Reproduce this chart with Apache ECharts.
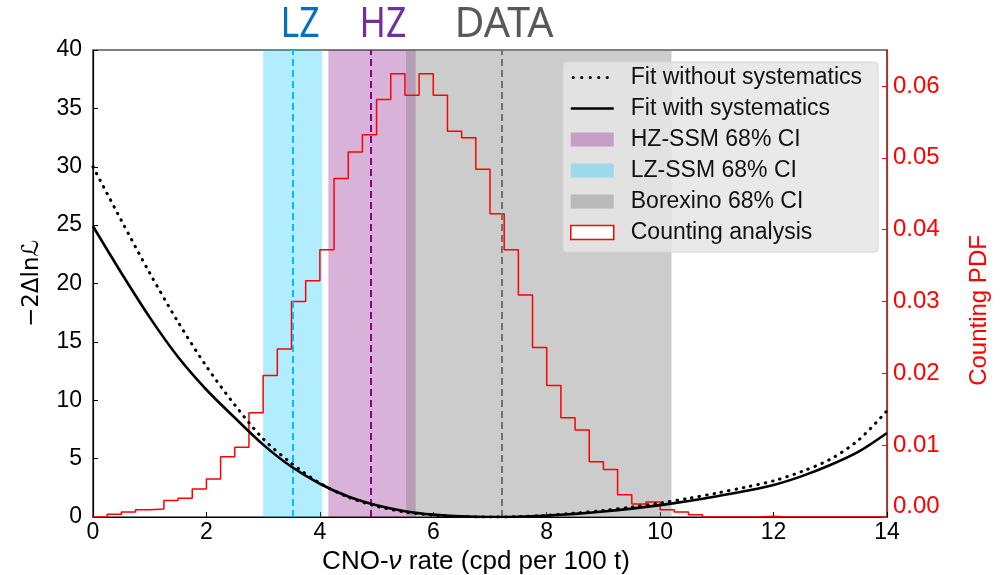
<!DOCTYPE html>
<html><head><meta charset="utf-8">
<script src="https://cdn.jsdelivr.net/npm/echarts@6/dist/echarts.min.js"></script>
<style>html,body{margin:0;padding:0;background:#fff}#c{width:1005px;height:575px}</style>
</head><body><div id="c"></div>
<script>
// ---- data ----
const fitX = [0,0.5,1,1.5,2,2.5,3,3.5,4,4.5,5,5.5,6,6.5,7,7.5,8,8.5,9,9.5,10,10.5,11,11.5,12,12.5,13,13.5,14];
const fitWithSyst = [24.9,20.9,17.1,13.7,10.9,8.5,6.2,4.3,2.85,1.75,1.0,0.5,0.2,0.05,0.0,0.02,0.12,0.27,0.47,0.72,1.02,1.37,1.77,2.22,2.74,3.5,4.45,5.6,7.2];
const fitWithoutSyst = [30.0,25.4,20.9,16.7,12.9,9.6,6.7,4.6,2.9,1.7,0.92,0.43,0.15,0.03,0.0,0.03,0.15,0.33,0.56,0.85,1.2,1.6,2.05,2.55,3.1,3.9,4.95,6.6,9.1];
const histBinStart = 0;
const histBinWidth = 0.25;
const histPdf = [0,0.0004,0.0007,0.0010,0.0011,0.0023,0.0026,0.0039,0.0053,0.0084,0.0097,0.0145,0.0197,0.0234,0.0300,0.0329,
  0.0372,0.0471,0.0508,0.0532,0.0581,0.0617,0.0587,0.0617,0.0587,0.0537,0.0528,0.0484,0.0422,0.0372,0.0309,0.0236,
  0.0183,0.0138,0.0121,0.0077,0.0066,0.0031,0.0018,0.0021,0.0010,0.0007,0.0003,0,0,0,0,0.0001,0,0,0,0,0,0,0,0];
const lzBand = [3.0, 4.04];
const hzBand = [4.15, 5.69];
const borexinoBand = [5.52, 10.2];
const lzCentral = 3.52;
const hzCentral = 4.9;
const dataBest = 7.21;
const seriesNames = ['Fit without systematics','Fit with systematics','HZ-SSM 68% CI','LZ-SSM 68% CI','Borexino 68% CI','Counting analysis'];
const topLabels = ['LZ','HZ','DATA'];

// ---- build ----
const FONT = '"Liberation Sans", Arial, sans-serif';
const hzColor = 'rgba(128,0,128,0.30)';
const lzColor = 'rgba(0,191,255,0.30)';
const bxColor = 'rgba(128,128,128,0.40)';

// legend icons (bounding box spans the whole 43x14 icon box)
const solidIcon = 'path://M0,0L0,0M43,14L43,14M0,5.8L43,5.8L43,8.2L0,8.2Z';
const dottedIcon = 'path://M0,0L0,0M43,14L43,14' +
  [2.5, 11, 19.5, 28, 36.5].map(c => `M${c - 1.6},7A1.6,1.6,0,1,0,${c + 1.6},7A1.6,1.6,0,1,0,${c - 1.6},7Z`).join('');

const pair = (xs, ys) => xs.map((x, i) => [x, ys[i]]);
const histData = histPdf.map((v, i) => [histBinStart + i * histBinWidth, v]);
histData.push([histBinStart + histPdf.length * histBinWidth, histPdf[histPdf.length - 1]]);

const band = (name, range, color) => ({
  name, type: 'line', data: [], yAxisIndex: 0, color, silent: true, z: 1,
  markArea: { silent: true, itemStyle: { color }, data: [[{ xAxis: range[0] }, { xAxis: range[1] }]] }
});
const vline = (x, color) => ({
  type: 'line', data: [], silent: true, z: 2,
  markLine: { silent: true, symbol: 'none', label: { show: false },
    lineStyle: { color, width: 2, type: [7, 4] }, data: [{ xAxis: x }] }
});

const chart = echarts.init(document.getElementById('c'), null, { renderer: 'canvas' });
chart.setOption({
  animation: false,
  backgroundColor: '#fff',
  textStyle: { fontFamily: FONT },
  grid: { left: 93, top: 50, width: 794, height: 467, show: true, borderColor: '#000', borderWidth: 1.2,
          backgroundColor: 'transparent', containLabel: false, outerBoundsMode: 'none' },
  legend: {
    orient: 'vertical', left: 563, top: 62,
    padding: [4, 16, 8, 7], itemGap: 8, itemWidth: 43, itemHeight: 14,
    backgroundColor: 'rgba(229,229,229,0.85)', borderColor: '#d6d6d6', borderWidth: 1, borderRadius: 4,
    textStyle: { fontSize: 23, color: '#111', fontFamily: FONT, padding: [0, 0, 0, 12], lineHeight: 23 },
    selectedMode: false,
    data: [
      { name: seriesNames[0], icon: dottedIcon, itemStyle: { color: '#000', borderWidth: 0 } },
      { name: seriesNames[1], icon: solidIcon, itemStyle: { color: '#000', borderWidth: 0 } },
      { name: seriesNames[2], icon: 'rect', itemStyle: { color: hzColor } },
      { name: seriesNames[3], icon: 'rect', itemStyle: { color: lzColor } },
      { name: seriesNames[4], icon: 'rect', itemStyle: { color: bxColor } },
      { name: seriesNames[5], icon: 'rect', itemStyle: { color: '#fff', borderColor: '#ff0000', borderWidth: 1.5 } }
    ]
  },
  xAxis: {
    type: 'value', min: 0, max: 14, interval: 2,
    name: 'CNO-{i|ν} rate (cpd per 100 t)', nameLocation: 'middle', nameGap: 27,
    nameTextStyle: { fontSize: 26, color: '#000', fontFamily: FONT, padding: [0, 28, 0, 0],
      rich: { i: { fontStyle: 'italic', fontSize: 26, fontFamily: FONT, color: '#000' } } },
    axisLine: { show: true, lineStyle: { color: '#000', width: 1.2 } },
    axisTick: { show: true, inside: true, length: 5, lineStyle: { color: '#000' } },
    axisLabel: { fontSize: 23, color: '#000', margin: 4, fontFamily: FONT },
    splitLine: { show: false }
  },
  yAxis: [
    { type: 'value', min: 0, max: 40, interval: 5, position: 'left',
      name: '−2Δln\u2112', nameLocation: 'middle', nameRotate: 90, nameGap: 49,
      nameTextStyle: { fontSize: 23, color: '#000', fontFamily: '"DejaVu Sans", ' + FONT },
      axisLine: { show: true, lineStyle: { color: '#000', width: 1.2 } },
      axisTick: { show: true, inside: true, length: 5, lineStyle: { color: '#000' } },
      axisLabel: { fontSize: 23, color: '#000', margin: 11, fontFamily: FONT },
      splitLine: { show: false } },
    { type: 'value', min: 0, max: 0.065, interval: 0.01, position: 'right',
      name: 'Counting PDF', nameLocation: 'middle', nameRotate: 90, nameGap: 80,
      nameTextStyle: { fontSize: 24, color: '#ff0000', fontFamily: FONT, padding: [0, 54, 0, 0] },
      axisLine: { show: true, lineStyle: { color: '#cc2222', width: 1.2 } },
      axisTick: { show: true, inside: true, length: 5, lineStyle: { color: '#ff0000' } },
      axisLabel: { fontSize: 24, color: '#ff0000', margin: 6, fontFamily: FONT, showMaxLabel: false,
        formatter: v => v === 0 ? '{z|' + v.toFixed(2) + '}' : v.toFixed(2),
        rich: { z: { fontSize: 24, color: '#ff0000', fontFamily: FONT, padding: [0, 0, 22, 0] } } },
      splitLine: { show: false } }
  ],
  graphic: [
    { type: 'text', x: 300, y: 25, scaleX: 0.85, z: 10, style: { text: topLabels[0], fontSize: 42, fontFamily: '"Noto Sans", sans-serif', fill: '#0070C0', align: 'center', verticalAlign: 'middle' } },
    { type: 'text', x: 383, y: 25, scaleX: 0.85, z: 10, style: { text: topLabels[1], fontSize: 42, fontFamily: '"Noto Sans", sans-serif', fill: '#7030A0', align: 'center', verticalAlign: 'middle' } },
    { type: 'text', x: 504, y: 25, scaleX: 0.98, z: 10, style: { text: topLabels[2], fontSize: 42, fontFamily: '"Noto Sans", sans-serif', fill: '#595959', align: 'center', verticalAlign: 'middle' } }
  ],
  series: [
    band(seriesNames[2], hzBand, hzColor),
    band(seriesNames[3], lzBand, lzColor),
    band(seriesNames[4], borexinoBand, bxColor),
    vline(lzCentral, '#00bfff'),
    vline(hzCentral, '#8b008b'),
    vline(dataBest, '#707070'),
    { name: seriesNames[5], type: 'line', yAxisIndex: 1, data: histData, step: 'end', symbol: 'none',
      color: '#ff0000', lineStyle: { color: '#ff0000', width: 1.5 }, z: 3 },
    { name: seriesNames[0], type: 'line', yAxisIndex: 0, data: pair(fitX, fitWithoutSyst), smooth: 0.3,
      symbol: 'none', color: '#000', lineStyle: { color: '#000', width: 3, type: [0.5, 7], cap: 'round' }, z: 5 },
    { name: seriesNames[1], type: 'line', yAxisIndex: 0, data: pair(fitX, fitWithSyst), smooth: 0.3,
      symbol: 'none', color: '#000', lineStyle: { color: '#000', width: 2.6 }, z: 6 }
  ]
});
</script></body></html>
